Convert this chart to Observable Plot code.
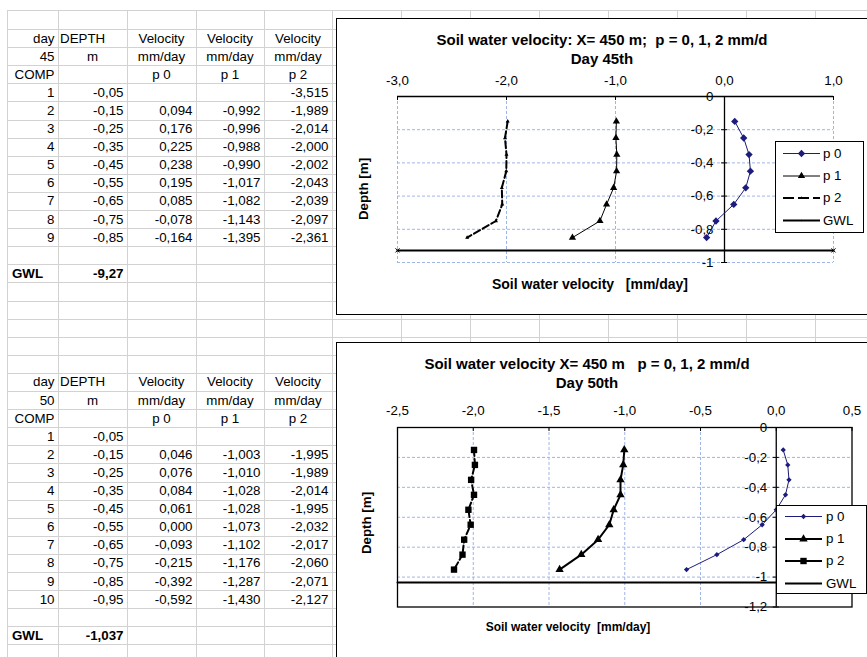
<!DOCTYPE html>
<html><head><meta charset="utf-8">
<script src="https://cdn.jsdelivr.net/npm/d3@7"></script>
<script src="https://cdn.jsdelivr.net/npm/@observablehq/plot@0.6"></script>
<style>
html,body{margin:0;padding:0;background:#fff;}
#page{position:relative;width:867px;height:657px;overflow:hidden;background:#fff;font-family:Arial,"Liberation Sans",Helvetica,sans-serif;color:#000;}
.vl{position:absolute;width:1px;background:#d2d2d2;}
.hl{position:absolute;height:1px;background:#d2d2d2;}
.cell{position:absolute;font-size:13.33px;line-height:18px;white-space:nowrap;box-sizing:border-box;}
.chartbox{position:absolute;background:#fff;border:1px solid #000;}
.chartbox svg{position:absolute;left:0;top:0;}
.lbl{position:absolute;white-space:pre;text-align:center;font-weight:bold;}
.legend{position:absolute;background:#fff;border:1px solid #000;box-sizing:border-box;}
.legend .txt{position:absolute;font-size:13.33px;line-height:18px;white-space:nowrap;}
</style></head>
<body><div id="page"></div>
<script>
// ---------------- data (read from the sheet) ----------------
const comp45 = [1, 2, 3, 4, 5, 6, 7, 8, 9];
const depth45 = [-0.05, -0.15, -0.25, -0.35, -0.45, -0.55, -0.65, -0.75, -0.85];
const p0Day45 = [null, 0.094, 0.176, 0.225, 0.238, 0.195, 0.085, -0.078, -0.164];
const p1Day45 = [null, -0.992, -0.996, -0.988, -0.990, -1.017, -1.082, -1.143, -1.395];
const p2Day45 = [-3.515, -1.989, -2.014, -2.000, -2.002, -2.043, -2.039, -2.097, -2.361];
const gwlCell45 = -9.27;    // value typed in the sheet
const gwlLine45 = -0.927;   // level drawn in the chart
const chartFromComp45 = 2;  // chart series start at COMP 2

const comp50 = [1, 2, 3, 4, 5, 6, 7, 8, 9, 10];
const depth50 = [-0.05, -0.15, -0.25, -0.35, -0.45, -0.55, -0.65, -0.75, -0.85, -0.95];
const p0Day50 = [null, 0.046, 0.076, 0.084, 0.061, 0.000, -0.093, -0.215, -0.392, -0.592];
const p1Day50 = [null, -1.003, -1.010, -1.028, -1.028, -1.073, -1.102, -1.176, -1.287, -1.430];
const p2Day50 = [null, -1.995, -1.989, -2.014, -1.995, -2.032, -2.017, -2.060, -2.071, -2.127];
const gwlCell50 = -1.037;
const gwlLine50 = -1.037;
const chartFromComp50 = 2;

const seriesNames = ["p 0", "p 1", "p 2"];
const headerVelocity = "Velocity";
const headerUnit = "mm/day";

// chart axes
const xDomain45 = [-3, 1];
const xTicks45 = [-3, -2, -1, 0, 1];
const xGrid45 = [-3, -2, -1, 1];
const yDomain45 = [-1, 0];
const yTicks45 = [0, -0.2, -0.4, -0.6, -0.8, -1];
const yGrid45 = [-0.2, -0.4, -0.6, -0.8, -1];

const xDomain50 = [-2.5, 0.5];
const xTicks50 = [-2.5, -2, -1.5, -1, -0.5, 0, 0.5];
const xGrid50 = [-2, -1.5, -1, -0.5];
const yDomain50 = [-1.2, 0];
const yTicks50 = [0, -0.2, -0.4, -0.6, -0.8, -1, -1.2];
const yGrid50 = [-0.2, -0.4, -0.6, -0.8, -1];

const title45 = ["Soil water velocity: X= 450 m;  p = 0, 1, 2 mm/d", "Day 45th"];
const title50 = ["Soil water velocity X= 450 m   p = 0, 1, 2 mm/d", "Day 50th"];
const xTitle45 = "Soil water velocity   [mm/day]";
const xTitle50 = "Soil water velocity  [mm/day]";
const yTitle = "Depth [m]";

// ---------------- helpers ----------------
const page = document.getElementById("page");
const comma = s => s.replace(".", ",");
const fmtN = (v, d) => comma(v.toFixed(d));
const fmtX = d => comma((Math.abs(d) < 1e-9 ? 0 : d).toFixed(1));
const fmtY = d => { const v = Math.round(d * 10) / 10; return v === 0 ? "0" : comma(String(v)); };
function div(cls, style, text) {
  const e = document.createElement("div");
  if (cls) e.className = cls;
  Object.assign(e.style, style);
  if (text != null) e.textContent = text;
  page.appendChild(e);
  return e;
}

// ---------------- spreadsheet grid ----------------
const colEdges = [7, 58, 127, 196, 264, 332, 401, 470, 539, 608, 677, 746, 815, 884];
const rowH = 18.1;
const rowTop = r => 29 + r * rowH;
const rowEdges = [10];
for (let i = 0; i < 37; i++) rowEdges.push(rowTop(i));
colEdges.forEach(x => div("vl", {left: x + "px", top: "10px", height: "660px"}));
rowEdges.forEach(y => div("hl", {left: "7px", top: Math.round(y) + "px", width: "870px"}));

function cell(r, c, text, align, bold) {
  const l = colEdges[c], w = colEdges[c + 1] - colEdges[c];
  const st = {left: l + "px", width: w + "px", top: (rowTop(r) + 0.5) + "px", height: rowH + "px", textAlign: align};
  if (align === "right") st.paddingRight = "3.5px";
  if (align === "left") st.paddingLeft = bold ? "5px" : "2px";
  if (bold) st.fontWeight = "bold";
  div("cell", st, text);
}
function putTable(r0, day, comps, depths, p0, p1, p2, gwlText) {
  cell(r0, 0, "day", "right"); cell(r0, 1, "DEPTH", "left");
  [2, 3, 4].forEach(c => cell(r0, c, headerVelocity, "center"));
  cell(r0 + 1, 0, String(day), "right"); cell(r0 + 1, 1, "m", "center");
  [2, 3, 4].forEach(c => cell(r0 + 1, c, headerUnit, "center"));
  cell(r0 + 2, 0, "COMP", "right");
  seriesNames.forEach((s, k) => cell(r0 + 2, 2 + k, s, "center"));
  comps.forEach((c, i) => {
    const r = r0 + 3 + i;
    cell(r, 0, String(c), "right");
    cell(r, 1, fmtN(depths[i], 2), "right");
    [p0, p1, p2].forEach((arr, k) => { if (arr[i] != null) cell(r, 2 + k, fmtN(arr[i], 3), "right"); });
  });
  const g = r0 + 3 + comps.length + 1;
  cell(g, 0, "GWL", "left", true);
  cell(g, 1, gwlText, "right", true);
}
putTable(0, 45, comp45, depth45, p0Day45, p1Day45, p2Day45, fmtN(gwlCell45, 2));
putTable(19, 50, comp50, depth50, p0Day50, p1Day50, p2Day50, fmtN(gwlCell50, 3));

// ---------------- charts ----------------
const GRID = "#9fb5e8";
const NAVY = "#1c1c7c";

function makeChart(o) {
  const plotH = o.height - o.marginTop - o.marginBottom;
  const gwlRows = o.xDomain.map(v => ({v, depth: o.gwl}));
  const marks = [
    Plot.ruleX(o.xGrid, {stroke: GRID, strokeWidth: 1, strokeDasharray: "3,2"}),
    Plot.ruleY(o.yGrid, {stroke: GRID, strokeWidth: 1, strokeDasharray: "3,2"}),
    o.frame ? Plot.frame({stroke: "#000", strokeWidth: 1.3})
            : Plot.ruleY([o.yDomain[1]], {stroke: "#000", strokeWidth: 1.3}),
    Plot.ruleX([0], {stroke: "#000", strokeWidth: 1.3}),
    Plot.ruleX(o.xTicks, {stroke: "#000", insetBottom: plotH - 4}),
    Plot.ruleY(o.yTicks, {x1: d => 0, x2: d => 0, insetLeft: -3, insetRight: -3, stroke: "#000"}),
    Plot.text(o.xTicks, {x: d => d, frameAnchor: "top", dy: o.xLabelDy, text: fmtX, fontSize: 13.33}),
    Plot.text(o.yTicks, {x: d => 0, y: d => d, text: fmtY, textAnchor: "end", dx: o.yLabelDx, fontSize: 13.33}),
    Plot.line(gwlRows, {x: "v", y: "depth", stroke: "#000", strokeWidth: 2})
  ];
  if (o.gwlMarker) marks.push(Plot.dot(gwlRows, {x: "v", y: "depth", symbol: "times", r: 2, stroke: "#000", strokeWidth: 1}));
  o.series.forEach(s => {
    const rows = o.rows.filter(d => d[s.key] != null);
    marks.push(Plot.line(rows, {x: s.key, y: "depth", stroke: s.stroke, strokeWidth: s.sw, strokeDasharray: s.dash || null}));
    marks.push(Plot.dot(rows, {x: s.key, y: "depth", symbol: s.symbol, r: s.r, fill: s.stroke, stroke: "none"}));
  });
  return Plot.plot({
    width: o.width, height: o.height,
    marginLeft: o.marginLeft, marginRight: o.marginRight, marginTop: o.marginTop, marginBottom: o.marginBottom,
    x: {domain: o.xDomain, axis: null},
    y: {domain: o.yDomain, axis: null},
    style: {fontFamily: "Arial, 'Liberation Sans', sans-serif", fontSize: "13.33px", background: "transparent", color: "#000", overflow: "visible"},
    marks
  });
}

function buildRows(depths, p0, p1, p2, fromComp, comps) {
  return depths.map((d, i) => ({depth: d, comp: comps[i], p0: p0[i], p1: p1[i], p2: p2[i]}))
    .filter(r => r.comp >= fromComp);
}

function symPath(name, r) {
  const t = {diamond2: d3.symbolDiamond2, triangle: d3.symbolTriangle, square: d3.symbolSquare, circle: d3.symbolCircle}[name];
  return d3.symbol(t, Math.PI * r * r)();
}
function legend(box, items) {
  const lg = div("legend", {left: box.left + "px", top: box.top + "px", width: box.w + "px", height: box.h + "px"});
  const ns = "http://www.w3.org/2000/svg";
  const svg = document.createElementNS(ns, "svg");
  svg.setAttribute("width", box.w); svg.setAttribute("height", box.h);
  svg.style.position = "absolute"; svg.style.left = "-1px"; svg.style.top = "-1px";
  items.forEach((it, k) => {
    const y = box.ys[k];
    const ln = document.createElementNS(ns, "line");
    ln.setAttribute("x1", box.x1); ln.setAttribute("x2", box.x2);
    ln.setAttribute("y1", y); ln.setAttribute("y2", y);
    ln.setAttribute("stroke", it.stroke); ln.setAttribute("stroke-width", it.sw);
    if (it.dash) ln.setAttribute("stroke-dasharray", it.dash);
    svg.appendChild(ln);
    if (it.symbol) {
      const p = document.createElementNS(ns, "path");
      p.setAttribute("d", symPath(it.symbol, it.r));
      p.setAttribute("transform", `translate(${(box.x1 + box.x2) / 2},${y})`);
      p.setAttribute("fill", it.stroke);
      svg.appendChild(p);
    }
    const t = document.createElement("div");
    t.className = "txt"; t.textContent = it.label;
    Object.assign(t.style, {left: (box.tx - 1) + "px", top: (y - 10) + "px"});
    lg.appendChild(t);
  });
  lg.appendChild(svg);
}

// ---- chart Day 45 ----
const rows45 = buildRows(depth45, p0Day45, p1Day45, p2Day45, chartFromComp45, comp45);
const box1 = div("chartbox", {left: "336px", top: "18px", width: "560px", height: "295px"});
box1.appendChild(makeChart({
  width: 530, height: 295, marginLeft: 60, marginRight: 34, marginTop: 77, marginBottom: 52,
  xDomain: xDomain45, yDomain: yDomain45, xTicks: xTicks45, xGrid: xGrid45, yTicks: yTicks45, yGrid: yGrid45,
  frame: false, gwl: gwlLine45, gwlMarker: true, rows: rows45, xLabelDy: -21, yLabelDx: -11,
  series: [
    {key: "p2", stroke: "#000", sw: 2, dash: "7,3", symbol: "triangle", r: 1.5},
    {key: "p1", stroke: "#000", sw: 1, symbol: "triangle", r: 2.7},
    {key: "p0", stroke: NAVY, sw: 1, symbol: "diamond2", r: 3.3}
  ]
}));
div("lbl", {left: "302px", width: "600px", top: "31px", fontSize: "15px", lineHeight: "18px"}, title45[0]);
div("lbl", {left: "302px", width: "600px", top: "50px", fontSize: "15px", lineHeight: "18px"}, title45[1]);
div("lbl", {left: "290px", width: "600px", top: "275px", fontSize: "14px", lineHeight: "18px"}, xTitle45);
div("lbl", {left: "314px", width: "100px", top: "180px", fontSize: "13.33px", lineHeight: "18px", transform: "rotate(-90deg)"}, yTitle);
legend({left: 775, top: 141, w: 89, h: 92, x1: 8, x2: 45, tx: 48, ys: [12.5, 35, 57, 79.5]}, [
  {label: seriesNames[0], stroke: NAVY, sw: 1, symbol: "diamond2", r: 3.3},
  {label: seriesNames[1], stroke: "#000", sw: 1, symbol: "triangle", r: 2.7},
  {label: seriesNames[2], stroke: "#000", sw: 2, dash: "11,4", symbol: "triangle", r: 1.2},
  {label: "GWL", stroke: "#000", sw: 2, symbol: "circle", r: 0.8}
]);

// ---- chart Day 50 ----
const rows50 = buildRows(depth50, p0Day50, p1Day50, p2Day50, chartFromComp50, comp50);
const box2 = div("chartbox", {left: "336px", top: "342px", width: "560px", height: "330px"});
box2.appendChild(makeChart({
  width: 530, height: 314, marginLeft: 60, marginRight: 15.5, marginTop: 84, marginBottom: 50.5,
  xDomain: xDomain50, yDomain: yDomain50, xTicks: xTicks50, xGrid: xGrid50, yTicks: yTicks50, yGrid: yGrid50,
  frame: true, gwl: gwlLine50, gwlMarker: false, rows: rows50, xLabelDy: -22, yLabelDx: -9,
  series: [
    {key: "p2", stroke: "#000", sw: 2, dash: "6,3", symbol: "square", r: 3.6},
    {key: "p1", stroke: "#000", sw: 2, symbol: "triangle", r: 3.1},
    {key: "p0", stroke: NAVY, sw: 1, symbol: "diamond2", r: 2.4}
  ]
}));
div("lbl", {left: "287px", width: "600px", top: "355px", fontSize: "15px", lineHeight: "18px"}, title50[0]);
div("lbl", {left: "287px", width: "600px", top: "374px", fontSize: "15px", lineHeight: "18px"}, title50[1]);
div("lbl", {left: "268px", width: "600px", top: "618px", fontSize: "12px", lineHeight: "18px"}, xTitle50);
div("lbl", {left: "317px", width: "100px", top: "514px", fontSize: "13.33px", lineHeight: "18px", transform: "rotate(-90deg)"}, yTitle);
legend({left: 776, top: 505, w: 91, h: 89, x1: 9, x2: 46, tx: 50, ys: [11.5, 34, 56, 78.5]}, [
  {label: seriesNames[0], stroke: NAVY, sw: 1, symbol: "diamond2", r: 2.4},
  {label: seriesNames[1], stroke: "#000", sw: 2, symbol: "triangle", r: 3.1},
  {label: seriesNames[2], stroke: "#000", sw: 2, symbol: "square", r: 3.6},
  {label: "GWL", stroke: "#000", sw: 2}
]);
</script>
</body></html>
